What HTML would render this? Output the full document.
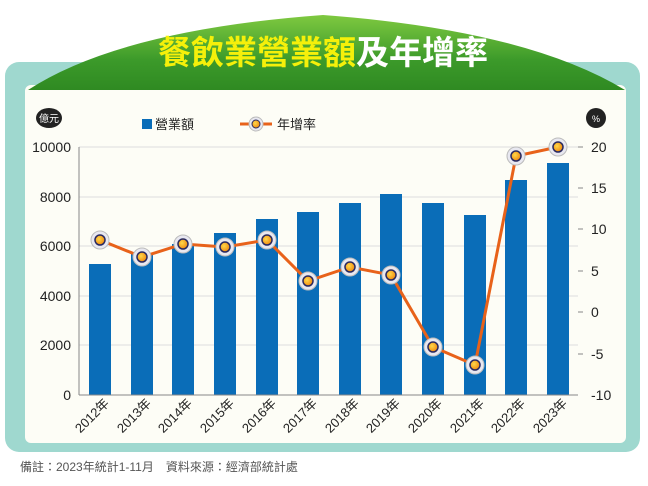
<!DOCTYPE html><html><head><meta charset="utf-8"><style>
body{margin:0;width:648px;height:486px;background:#fff;overflow:hidden;font-family:"Liberation Sans","Noto Sans CJK TC",sans-serif}
</style></head><body>
<svg width="648" height="486" viewBox="0 0 648 486" style="position:absolute;left:0;top:0">
<defs>
<linearGradient id="g" x1="0" y1="0" x2="0" y2="1"><stop offset="0" stop-color="#7fc940"/><stop offset="0.6" stop-color="#3c9a2a"/><stop offset="1" stop-color="#2f8a22"/></linearGradient>
<radialGradient id="dot" cx="0.4" cy="0.4" r="0.6"><stop offset="0" stop-color="#ffd84a"/><stop offset="1" stop-color="#f08a10"/></radialGradient>
</defs>
<rect x="5" y="62" width="635" height="390" rx="14" fill="#9fd8cf"/>
<rect x="25" y="85" width="601" height="358" rx="6" fill="#fdfdf6"/>
<path d="M28 90 Q120 30 323 15 Q526 30 625 90 Z" fill="url(#g)"/>
<text x="323" y="64" text-anchor="middle" font-size="33" font-weight="bold" font-family="Liberation Sans,Noto Sans CJK TC,sans-serif"><tspan fill="#f5f00a">餐飲業營業額</tspan><tspan fill="#fff">及年增率</tspan></text>
<g stroke="#ddd" stroke-width="1">
<line x1="79" y1="147" x2="578" y2="147"/><line x1="79" y1="197" x2="578" y2="197"/><line x1="79" y1="246" x2="578" y2="246"/><line x1="79" y1="296" x2="578" y2="296"/><line x1="79" y1="345" x2="578" y2="345"/></g>
<g fill="#0a6db8">
<rect x="89" y="264" width="22" height="131"/><rect x="131" y="254" width="22" height="141"/><rect x="172" y="244" width="22" height="151"/><rect x="214" y="233" width="22" height="162"/><rect x="256" y="219" width="22" height="176"/><rect x="297" y="212" width="22" height="183"/><rect x="339" y="203" width="22" height="192"/><rect x="380" y="194" width="22" height="201"/><rect x="422" y="203" width="22" height="192"/><rect x="464" y="215" width="22" height="180"/><rect x="505" y="180" width="22" height="215"/><rect x="547" y="163" width="22" height="232"/></g>
<line x1="79" y1="147" x2="79" y2="395" stroke="#888"/><line x1="79" y1="395" x2="578" y2="395" stroke="#888"/>
<g stroke="#888"><line x1="578" y1="147" x2="583" y2="147"/><line x1="578" y1="188" x2="583" y2="188"/><line x1="578" y1="229" x2="583" y2="229"/><line x1="578" y1="271" x2="583" y2="271"/><line x1="578" y1="312" x2="583" y2="312"/><line x1="578" y1="354" x2="583" y2="354"/></g>
<polyline fill="none" stroke="#e8621a" stroke-width="3" points="100,240 142,257 183,244 225,247 267,240 308,281 350,267 391,275 433,347 475,365 516,156 558,147"/>
<g>
<g fill="#e8e8f0" stroke="#bbb" stroke-width="1">
<circle cx="100" cy="240" r="9"/><circle cx="142" cy="257" r="9"/><circle cx="183" cy="244" r="9"/><circle cx="225" cy="247" r="9"/><circle cx="267" cy="240" r="9"/><circle cx="308" cy="281" r="9"/><circle cx="350" cy="267" r="9"/><circle cx="391" cy="275" r="9"/><circle cx="433" cy="347" r="9"/><circle cx="475" cy="365" r="9"/><circle cx="516" cy="156" r="9"/><circle cx="558" cy="147" r="9"/></g>
<g fill="url(#dot)" stroke="#2a2a60" stroke-width="1.5">
<circle cx="100" cy="240" r="5"/><circle cx="142" cy="257" r="5"/><circle cx="183" cy="244" r="5"/><circle cx="225" cy="247" r="5"/><circle cx="267" cy="240" r="5"/><circle cx="308" cy="281" r="5"/><circle cx="350" cy="267" r="5"/><circle cx="391" cy="275" r="5"/><circle cx="433" cy="347" r="5"/><circle cx="475" cy="365" r="5"/><circle cx="516" cy="156" r="5"/><circle cx="558" cy="147" r="5"/></g></g>
<g font-size="14" fill="#222" text-anchor="end">
<text x="71" y="152">10000</text><text x="71" y="202">8000</text><text x="71" y="251">6000</text><text x="71" y="301">4000</text><text x="71" y="350">2000</text><text x="71" y="400">0</text></g>
<g font-size="14" fill="#222" text-anchor="start">
<text x="591" y="152">20</text><text x="591" y="193">15</text><text x="591" y="234">10</text><text x="591" y="276">5</text><text x="591" y="317">0</text><text x="591" y="359">-5</text><text x="591" y="400">-10</text></g>
<g font-size="13" fill="#222" text-anchor="end">
<text transform="translate(110,404) rotate(-45)">2012年</text><text transform="translate(152,404) rotate(-45)">2013年</text><text transform="translate(193,404) rotate(-45)">2014年</text><text transform="translate(235,404) rotate(-45)">2015年</text><text transform="translate(277,404) rotate(-45)">2016年</text><text transform="translate(318,404) rotate(-45)">2017年</text><text transform="translate(360,404) rotate(-45)">2018年</text><text transform="translate(401,404) rotate(-45)">2019年</text><text transform="translate(443,404) rotate(-45)">2020年</text><text transform="translate(485,404) rotate(-45)">2021年</text><text transform="translate(526,404) rotate(-45)">2022年</text><text transform="translate(568,404) rotate(-45)">2023年</text></g>
<ellipse cx="49" cy="118" rx="13" ry="10" fill="#222"/><text x="49" y="122" font-size="10" fill="#fff" text-anchor="middle">億元</text>
<circle cx="596" cy="118" r="10" fill="#222"/><text x="596" y="122" font-size="9" fill="#fff" text-anchor="middle">%</text>
<rect x="142" y="119" width="10" height="10" fill="#0a6db8"/><text x="155" y="129" font-size="13" fill="#222">營業額</text>
<line x1="240" y1="124" x2="272" y2="124" stroke="#e8621a" stroke-width="3"/><circle cx="256" cy="124" r="7" fill="#e8e8f0" stroke="#bbb"/><circle cx="256" cy="124" r="4" fill="url(#dot)" stroke="#2a2a60"/>
<text x="277" y="129" font-size="13" fill="#222">年增率</text>
<text x="20" y="471" font-size="12" fill="#555">備註：2023年統計1-11月　資料來源：經濟部統計處</text>
</svg></body></html>
